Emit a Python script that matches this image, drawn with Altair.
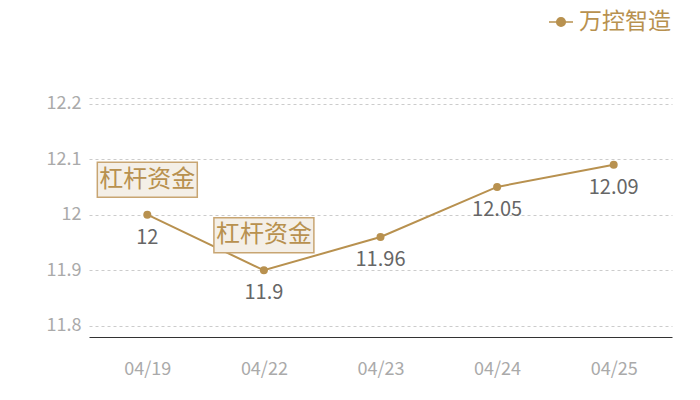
import altair as alt
import pandas as pd

dates = ["04/19", "04/22", "04/23", "04/24", "04/25"]
values = [12.0, 11.9, 11.96, 12.05, 12.09]
series_name = "万控智造"
annotated_dates = ["04/19", "04/22"]
annotation_text = "杠杆资金"
y_ticks = [11.8, 11.9, 12.0, 12.1, 12.2, 12.21]
y_domain = [11.78, 12.21]

GOLD = "#b8914f"
FONT = "Noto Sans CJK SC"

df = pd.DataFrame({"date": dates, "value": values, "series": series_name})
df["label"] = [("%g" % v) for v in values]
ann = df[df["date"].isin(annotated_dates)].copy()
ann["text"] = annotation_text

x = alt.X("date:N", sort=dates, title=None,
          scale=alt.Scale(type="point", padding=0.5),
          axis=alt.Axis(labelAngle=0, labelColor="#aaaaaa", labelFontSize=18,
                        labelFont=FONT, ticks=False, domainColor="#333333",
                        domainWidth=1, labelPadding=23, grid=False))
y = alt.Y("value:Q", title=None,
          scale=alt.Scale(domain=y_domain, nice=False, zero=False),
          axis=alt.Axis(values=y_ticks, labelExpr="datum.value > 12.205 ? '' : toString(datum.value)",
                        labelColor="#aaaaaa", labelFontSize=18, labelFont=FONT,
                        ticks=False, domain=False, labelPadding=8,
                        grid=True, gridDash=[3, 3], gridColor="#cccccc", gridWidth=1))

legend_path = "M-1,0 L1,0 M0.36,0 A0.36,0.36 0 1 1 -0.36,0 A0.36,0.36 0 1 1 0.36,0"

base = alt.Chart(df)

line = base.mark_line(strokeWidth=2).encode(
    x=x, y=y,
    color=alt.Color("series:N", scale=alt.Scale(range=[GOLD]),
                    legend=alt.Legend(title=None, orient="none", legendX=459, legendY=-89,
                                      labelFontSize=23, labelColor=GOLD,
                                      labelFont="Liberation Sans, Noto Sans CJK SC",
                                      symbolType=legend_path, symbolSize=576,
                                      symbolStrokeWidth=1.5, symbolFillColor=GOLD,
                                      symbolStrokeColor=GOLD, labelOffset=5, padding=0)),
)

points = base.mark_point(filled=True, size=64, color=GOLD, opacity=1).encode(x=x, y=y)

labels = base.mark_text(dy=23, fontSize=20, color="#666666", font=FONT).encode(
    x=x, y=y, text="label:N")

box_path = "M-1.4,-0.49 L1.4,-0.49 L1.4,0.49 L-1.4,0.49 Z"
boxes = alt.Chart(ann).mark_point(shape=box_path, size=5100, filled=True,
                                  fill="#f4efe7", stroke="#c8a572", strokeWidth=1.5,
                                  opacity=1, yOffset=-35).encode(x=x, y=y)
ann_text = alt.Chart(ann).mark_text(dy=-35, fontSize=24, color=GOLD, font=FONT).encode(
    x=x, y=y, text="text:N")

chart = alt.layer(line, points, labels, boxes, ann_text).properties(
    width=583, height=239,
    autosize=alt.AutoSizeParams(type="none"),
    padding={"left": 81, "top": 90, "right": 20, "bottom": 55},
).configure(background="white").configure_view(strokeWidth=0, stroke=None)

chart.save("out.html", embed_options={"renderer": "svg", "actions": False})
